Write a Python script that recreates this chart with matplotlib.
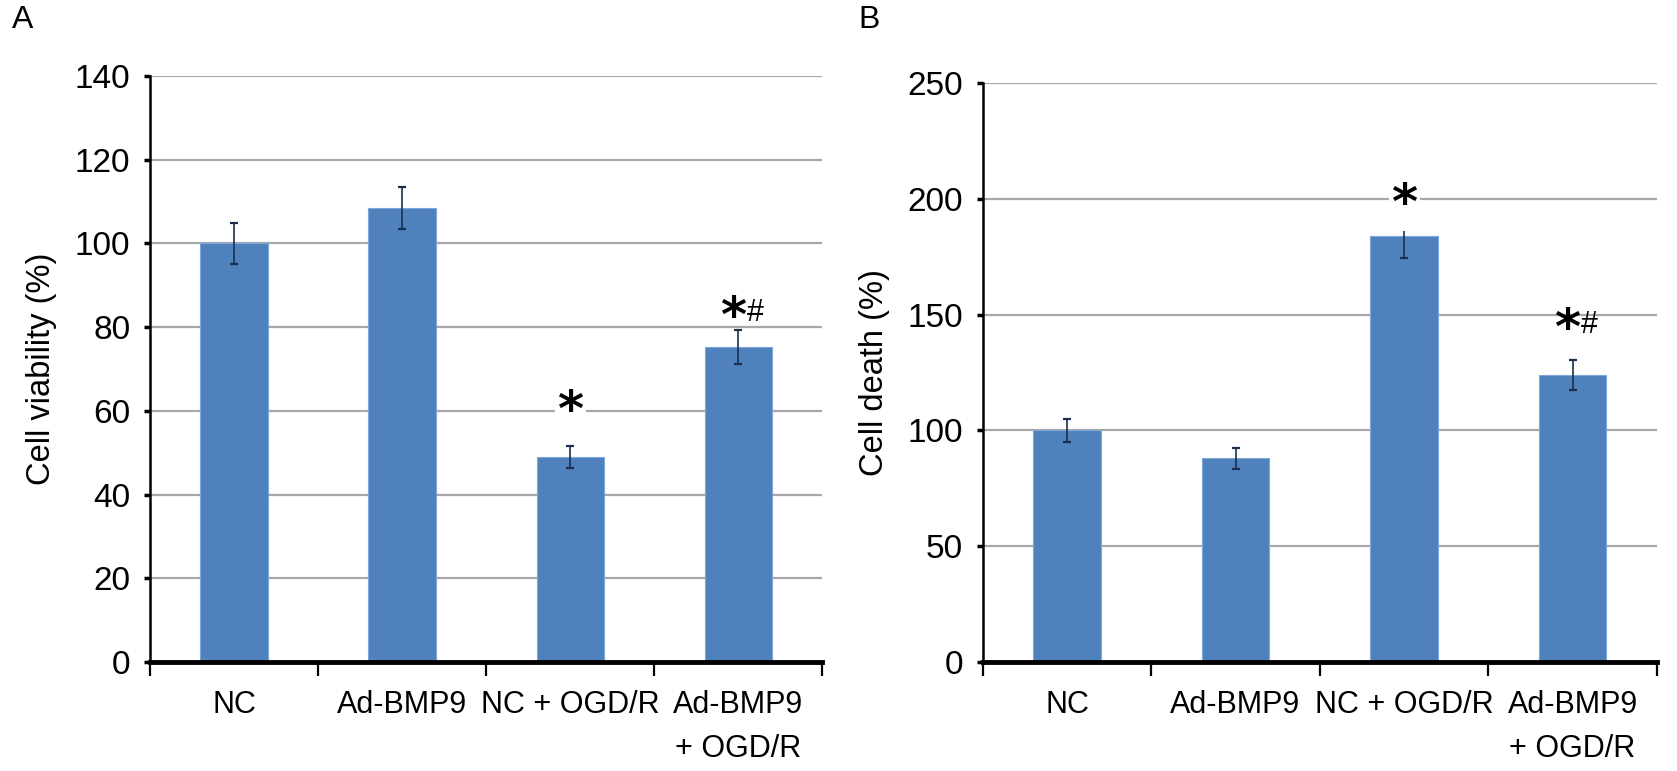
import matplotlib
matplotlib.use("Agg")
from matplotlib import pyplot as plt

plt.rcParams['font.family'] = ['Liberation Sans', 'DejaVu Sans']

categories = ['NC', 'Ad-BMP9', 'NC + OGD/R', 'Ad-BMP9\n+ OGD/R']

viability = [100, 108.5, 49, 75.3]
viability_err = [5, 5, 2.7, 4]
viability_marks = ['', '', '*', '*#']

death = [100, 88, 184, 124]
death_err = [5, 4.5, 9.5, 6.5]
death_marks = ['', '', '*', '*#']

BAR_COLOR = '#4f81bd'
ERR_COLOR = '#1b2f4f'
GRID_COLOR = '#a8a8a8'


def draw_panel(ax, values, errors, marks, ymax, ystep, ylabel, gaps):
    n = len(values)
    centers = [i + 0.5 for i in range(n)]

    for k in range(ystep, ymax + 1, ystep):
        ax.axhline(k, color=GRID_COLOR, lw=1.6, zorder=0)

    ax.bar(centers, values, width=0.4, color=BAR_COLOR, edgecolor='#7ea6d6',
           linewidth=0.8, zorder=2)
    ax.errorbar(centers, values, yerr=errors, fmt='none', ecolor=ERR_COLOR,
                elinewidth=1.2, capsize=3, capthick=1.6, zorder=3)

    # significance marks sit above the error bars
    for x, v, e, m in zip(centers, values, errors, marks):
        if not m:
            continue
        y = v + e + gaps[m]
        if m == '*':
            ax.text(x, y, '*', ha='center', va='center', fontsize=36,
                    fontweight='bold', family='DejaVu Sans', zorder=4,
                    bbox=dict(boxstyle='square,pad=0.05', fc='white', ec='none'))
        else:
            ax.annotate('*', (x, y), xytext=(-4, 0), textcoords='offset points',
                        ha='center', va='center', fontsize=36, fontweight='bold',
                        family='DejaVu Sans', zorder=4)
            ax.annotate('#', (x, y), xytext=(12, 3), textcoords='offset points',
                        ha='center', va='center', fontsize=22, zorder=4)

    ax.set_xlim(0, n)
    ax.set_ylim(0, ymax)
    ax.set_yticks(range(0, ymax + 1, ystep))
    ax.set_xticks(centers)
    ax.set_xticklabels(categories, linespacing=1.6)
    ax.set_xticks(range(n + 1), minor=True)
    ax.tick_params(axis='x', which='major', length=0, pad=20, labelsize=22)
    ax.tick_params(axis='x', which='minor', length=10, width=1.6, direction='out')
    ax.tick_params(axis='y', length=4, width=2.5, pad=10, labelsize=24)

    for s in ['top', 'right']:
        ax.spines[s].set_visible(False)
    ax.spines['bottom'].set_linewidth(3.5)
    ax.spines['left'].set_linewidth(1.8)
    ax.spines['bottom'].set_zorder(5)

    ax.set_ylabel(ylabel, fontsize=23.5)
    ax.yaxis.set_label_coords(-0.138, 0.5)


fig = plt.figure(figsize=(16.77, 7.71), dpi=100)
ax1 = fig.add_axes([0.0894, 0.1414, 0.401, 0.760])
ax2 = fig.add_axes([0.586, 0.1414, 0.402, 0.751])

draw_panel(ax1, viability, viability_err, viability_marks, 140, 20,
           'Cell viability (%)', {'*': 8, '*#': 3})
draw_panel(ax2, death, death_err, death_marks, 250, 50,
           'Cell death (%)', {'*': 4, '*#': 13})

fig.text(0.007, 0.993, 'A', fontsize=23, va='top')
fig.text(0.512, 0.993, 'B', fontsize=23, va='top')

fig.savefig('out.png', dpi=100)
